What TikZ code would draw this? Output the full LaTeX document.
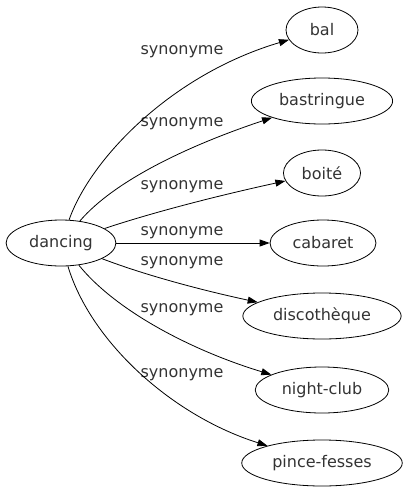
\documentclass[tikz,border=0pt]{standalone}
\usepackage{fontspec}
\setmainfont{DejaVu Sans}
\usetikzlibrary{shapes,arrows.meta}

\begin{document}
\begin{tikzpicture}[x=1pt,y=-1pt]
      \tikzstyle{word} = [ellipse, draw, line width=0.8pt, minimum width=72pt, minimum height=46pt, inner sep=7pt, text=black!80, font=\fontsize{16}{19}\selectfont]
      \tikzstyle{rel} = [inner sep=0pt, text=black!80, font=\fontsize{16}{19}\selectfont]
      \tikzstyle{link} = [line width=0.8pt, -{Triangle[length=10pt,width=7pt]}]
      \useasboundingbox (0,0) rectangle (409,491);
      % centre word
      \node (dancing) [word] at (61,243) {dancing};
      % synonyms
      \node (bal) [word] at (322,30) {bal};
      \node (bastringue) [word] at (322,101) {bastringue};
      \node (boite) [word] at (322,173) {boité};
      \node (cabaret) [word] at (323,243) {cabaret};
      \node (disco) [word] at (322,316) {discothèque};
      \node (nightclub) [word] at (322,390) {night-club};
      \node (pince) [word] at (322,463) {pince-fesses};
      % labels
      \node (l1) [rel] at (182,52) {synonyme};
      \node (l2) [rel] at (182,124) {synonyme};
      \node (l3) [rel] at (182,187) {synonyme};
      \node (l4) [rel] at (182,233) {synonyme};
      \node (l5) [rel] at (182,263) {synonyme};
      \node (l6) [rel] at (182,310) {synonyme};
      \node (l7) [rel] at (182,375) {synonyme};
      % edges
      \draw [link] (dancing) .. controls (90,160) and (170,75) .. (bal);
      \draw [link] (dancing) .. controls (115,180) and (190,145) .. (bastringue);
      \draw [link] (dancing) .. controls (160,210) and (230,193) .. (boite);
      \draw [link] (dancing) -- (cabaret);
      \draw [link] (dancing) .. controls (150,277) and (210,292) .. (disco);
      \draw [link] (dancing) .. controls (115,310) and (190,350) .. (nightclub);
      \draw [link] (dancing) .. controls (90,340) and (170,415) .. (pince);
\end{tikzpicture}
\end{document}
